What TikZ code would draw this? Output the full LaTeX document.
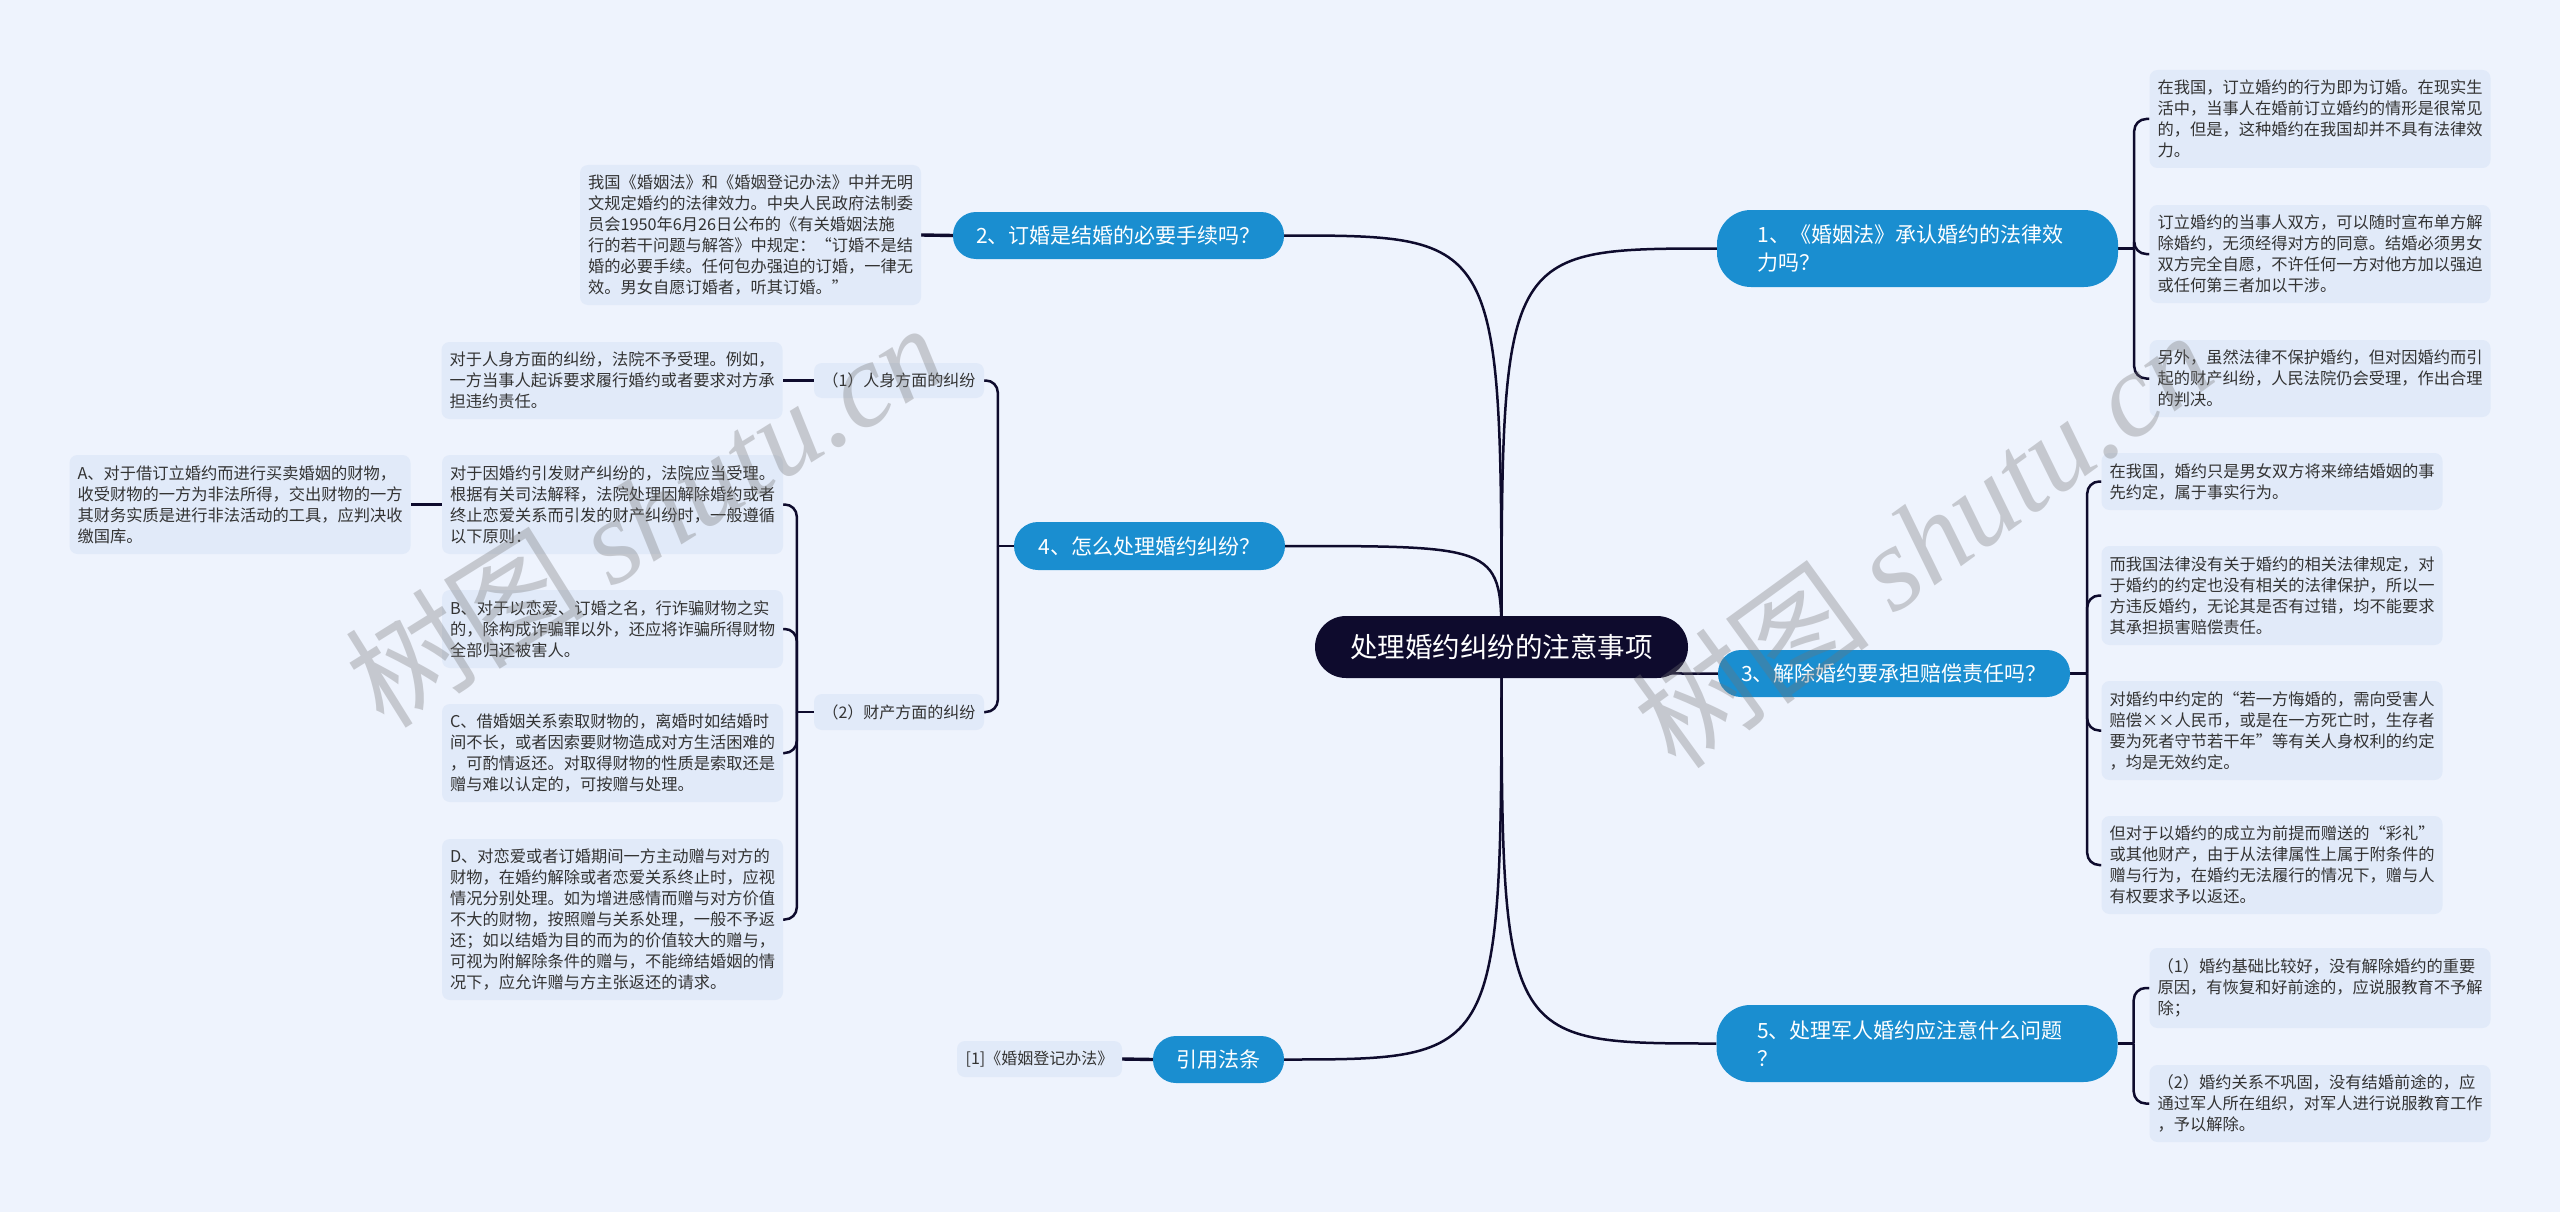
\documentclass[tikz,border=0pt]{standalone}
\usepackage{fontspec}
\setmainfont{Noto Sans CJK SC}
\newfontfamily\wmfont{Liberation Serif}
\usetikzlibrary{calc}
\definecolor{bgc}{HTML}{EEF3FD}
\definecolor{leafc}{HTML}{E1EAF9}
\definecolor{mainc}{HTML}{1A8ED0}
\definecolor{rootc}{HTML}{0E0B2D}
\definecolor{linec}{HTML}{0E0B2D}
\definecolor{txtc}{HTML}{333333}
\pgfdeclarelayer{bg}
\pgfsetlayers{bg,main}
\begin{document}
\begin{tikzpicture}[x=1pt,y=-1pt,
  leaf/.style={fill=leafc, rounded corners=8pt, text=txtc, align=left,
    text width=325pt, inner xsep=8pt, inner ysep=0pt,
    font=\fontsize{16.25}{21}\selectfont},
  smallleaf/.style={fill=leafc, rounded corners=8pt, text=txtc, inner sep=0pt,
    font=\fontsize{16}{21}\selectfont},
  mainn/.style={fill=mainc, text=white, inner sep=0pt,
    font=\fontsize{21}{28}\selectfont},
  conn/.style={draw=linec, line width=2.5pt},
  stub/.style={draw=linec, line width=3.4pt},
  brk/.style={draw=linec, line width=2.5pt, rounded corners=12pt},
  wm/.style={text=black!55, opacity=0.33,
    font=\fontsize{120}{120}\selectfont}
]
\begin{pgfonlayer}{bg}
  \fill[bgc] (0,0) rectangle (2560,1212);
\end{pgfonlayer}
\useasboundingbox (0,0) rectangle (2560,1212);

% root
\node[fill=rootc, text=white, inner sep=0pt, rounded corners=31pt,
  minimum width=373pt, minimum height=62pt,
  font=\fontsize{27.5}{30}\selectfont] (root) at (1501.5,647) {处理婚约纠纷的注意事项};

% main topics
\node[mainn, rounded corners=34pt, minimum width=401pt, minimum height=77pt,
  text width=320pt, align=left, inner xsep=40.5pt] (n1) at (1917.5,248.5)
  {1、《婚姻法》承认婚约的法律效\\力吗？};
\node[mainn, rounded corners=23pt, minimum width=331pt, minimum height=47pt] (n2) at (1118.5,235.5)
  {2、订婚是结婚的必要手续吗？};
\node[mainn, rounded corners=23pt, minimum width=352pt, minimum height=47pt] (n3) at (1894,673.5)
  {3、解除婚约要承担赔偿责任吗？};
\node[mainn, rounded corners=24pt, minimum width=271pt, minimum height=48pt] (n4) at (1149.5,546)
  {4、怎么处理婚约纠纷？};
\node[mainn, rounded corners=34pt, minimum width=401pt, minimum height=77pt,
  text width=320pt, align=left, inner xsep=40.5pt] (n5) at (1917,1043.5)
  {5、处理军人婚约应注意什么问题\\？};
\node[mainn, rounded corners=23pt, minimum width=131pt, minimum height=47pt] (yy) at (1218.5,1059.5)
  {引用法条};

% right leaves of 1
\node[leaf, minimum height=98pt] (r1a) at (2320,119)
  {在我国，订立婚约的行为即为订婚。在现实生\\活中，当事人在婚前订立婚约的情形是很常见\\的，但是，这种婚约在我国却并不具有法律效\\力。};
\node[leaf, minimum height=98pt] (r1b) at (2320,254)
  {订立婚约的当事人双方，可以随时宣布单方解\\除婚约，无须经得对方的同意。结婚必须男女\\双方完全自愿，不许任何一方对他方加以强迫\\或任何第三者加以干涉。};
\node[leaf, minimum height=77pt] (r1c) at (2320,378.5)
  {另外，虽然法律不保护婚约，但对因婚约而引\\起的财产纠纷，人民法院仍会受理，作出合理\\的判决。};

% right leaves of 3
\node[leaf, minimum height=57pt] (r3a) at (2272,481.5)
  {在我国，婚约只是男女双方将来缔结婚姻的事\\先约定，属于事实行为。};
\node[leaf, minimum height=99pt] (r3b) at (2272,595.5)
  {而我国法律没有关于婚约的相关法律规定，对\\于婚约的约定也没有相关的法律保护，所以一\\方违反婚约，无论其是否有过错，均不能要求\\其承担损害赔偿责任。};
\node[leaf, minimum height=99pt] (r3c) at (2272,730.5)
  {对婚约中约定的“若一方悔婚的，需向受害人\\赔偿××人民币，或是在一方死亡时，生存者\\要为死者守节若干年”等有关人身权利的约定\\，均是无效约定。};
\node[leaf, minimum height=98pt] (r3d) at (2272,865)
  {但对于以婚约的成立为前提而赠送的“彩礼”\\或其他财产，由于从法律属性上属于附条件的\\赠与行为，在婚约无法履行的情况下，赠与人\\有权要求予以返还。};

% right leaves of 5
\node[leaf, minimum height=80pt] (r5a) at (2320,988)
  {（1）婚约基础比较好，没有解除婚约的重要\\原因，有恢复和好前途的，应说服教育不予解\\除；};
\node[leaf, minimum height=77pt] (r5b) at (2320,1103.5)
  {（2）婚约关系不巩固，没有结婚前途的，应\\通过军人所在组织，对军人进行说服教育工作\\，予以解除。};

% left leaf of 2
\node[leaf, minimum height=140pt] (l2) at (750.5,235)
  {我国《婚姻法》和《婚姻登记办法》中并无明\\文规定婚约的法律效力。中央人民政府法制委\\员会1950年6月26日公布的《有关婚姻法施\\行的若干问题与解答》中规定：“订婚不是结\\婚的必要手续。任何包办强迫的订婚，一律无\\效。男女自愿订婚者，听其订婚。”};

% topic 4 subtree
\node[smallleaf, minimum width=170pt, minimum height=35pt] (s1) at (899,380.5) {（1）人身方面的纠纷};
\node[smallleaf, minimum width=170pt, minimum height=36pt] (s2) at (899,712) {（2）财产方面的纠纷};
\node[leaf, minimum height=77pt] (s1l) at (612,380.5)
  {对于人身方面的纠纷，法院不予受理。例如，\\一方当事人起诉要求履行婚约或者要求对方承\\担违约责任。};
\node[leaf, minimum height=99pt] (p0) at (612.5,504.5)
  {对于因婚约引发财产纠纷的，法院应当受理。\\根据有关司法解释，法院处理因解除婚约或者\\终止恋爱关系而引发的财产纠纷时，一般遵循\\以下原则：};
\node[leaf, minimum height=99pt] (pa) at (240,504.5)
  {A、对于借订立婚约而进行买卖婚姻的财物，\\收受财物的一方为非法所得，交出财物的一方\\其财务实质是进行非法活动的工具，应判决收\\缴国库。};
\node[leaf, minimum height=78pt] (pb) at (612.5,629)
  {B、对于以恋爱、订婚之名，行诈骗财物之实\\的，除构成诈骗罪以外，还应将诈骗所得财物\\全部归还被害人。};
\node[leaf, minimum height=98pt] (pc) at (612.5,753)
  {C、借婚姻关系索取财物的，离婚时如结婚时\\间不长，或者因索要财物造成对方生活困难的\\，可酌情返还。对取得财物的性质是索取还是\\赠与难以认定的，可按赠与处理。};
\node[leaf, minimum height=161pt] (pd) at (612.5,919.5)
  {D、对恋爱或者订婚期间一方主动赠与对方的\\财物，在婚约解除或者恋爱关系终止时，应视\\情况分别处理。如为增进感情而赠与对方价值\\不大的财物，按照赠与关系处理，一般不予返\\还；如以结婚为目的而为的价值较大的赠与，\\可视为附解除条件的赠与，不能缔结婚姻的情\\况下，应允许赠与方主张返还的请求。};

% reference leaf
\node[smallleaf, minimum width=165pt, minimum height=36pt] (ref) at (1039.5,1059) {[1]《婚姻登记办法》};

% trunk coordinates
\coordinate (t1) at ($(n1.east)+(16,0)$);
\coordinate (t3) at ($(n3.east)+(17,0)$);
\coordinate (t5) at ($(n5.east)+(16,0)$);
\coordinate (t4) at ($(n4.west)+(-16,0)$);
\coordinate (ts2) at ($(s2.west)+(-17,0)$);

\begin{pgfonlayer}{bg}
  % from root
  \draw[conn] (root.center) .. controls (root.center |- n1.west) .. (n1.west);
  \draw[conn] (root.center) .. controls (root.center |- n3.west) .. (n3.west);
  \draw[conn] (root.center) .. controls (root.center |- n5.west) .. (n5.west);
  \draw[conn] (root.center) .. controls (root.center |- n2.east) .. (n2.east);
  \draw[conn] (root.center) .. controls (root.center |- n4.east) .. (n4.east);
  \draw[conn] (root.center) .. controls (root.center |- yy.east) .. (yy.east);
  % topic 1
  \draw[conn] (n1.east) -- (t1);
  \draw[brk] (t1) |- (r1a.west);
  \draw[brk] (t1) |- (r1b.west);
  \draw[brk] (t1) |- (r1c.west);
  % topic 3
  \draw[conn] (n3.east) -- (t3);
  \draw[brk] (t3) |- (r3a.west);
  \draw[brk] (t3) |- (r3b.west);
  \draw[brk] (t3) |- (r3c.west);
  \draw[brk] (t3) |- (r3d.west);
  % topic 5
  \draw[conn] (n5.east) -- (t5);
  \draw[brk] (t5) |- (r5a.west);
  \draw[brk] (t5) |- (r5b.west);
  % topic 2
  \draw[stub] (n2.west) -- (l2.east);
  % topic 4
  \draw[conn] (n4.west) -- (t4);
  \draw[brk] (t4) |- (s1.east);
  \draw[brk] (t4) |- (s2.east);
  \draw[stub] (s1.west) -- (s1l.east);
  \draw[conn] (s2.west) -- (ts2);
  \draw[brk] (ts2) |- (p0.east);
  \draw[brk] (ts2) |- (pb.east);
  \draw[brk] (ts2) |- (pc.east);
  \draw[brk] (ts2) |- (pd.east);
  \draw[stub] (p0.west) -- (pa.east);
  % reference
  \draw[stub] (yy.west) -- (ref.east);
\end{pgfonlayer}

% watermarks
\node[wm, rotate=32] (wm1) at (645,514) {树图 {\wmfont\itshape shutu.cn}};
\node[wm, rotate=36] (wm2) at (1922,539) {树图 {\wmfont\itshape shutu.cn}};
\end{tikzpicture}
\end{document}
